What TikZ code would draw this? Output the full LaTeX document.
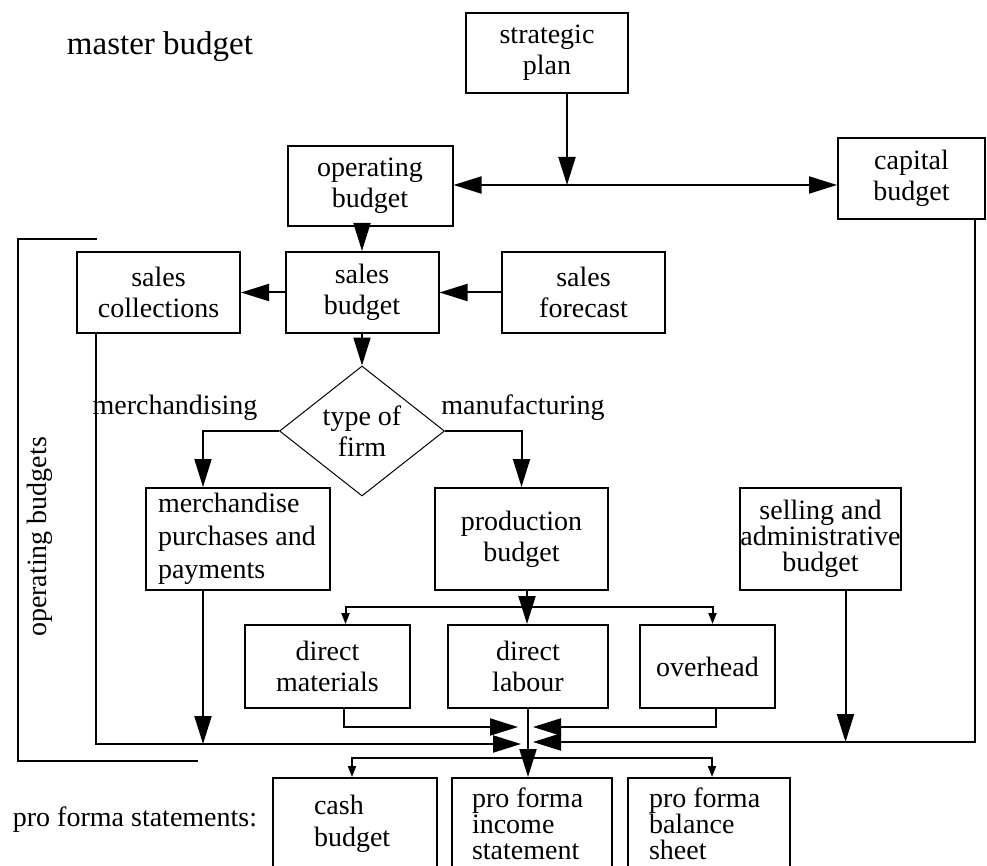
\documentclass[tikz,border=0pt]{standalone}
\usepackage{fontspec}
\setmainfont{Liberation Serif}
\usetikzlibrary{arrows.meta,shapes.geometric}

\tikzset{
  box/.style={draw, line width=2pt, inner sep=0pt, align=center},
  tightbox/.style={box, align=flush left, font=\fontsize{28}{26}\selectfont},
  bigtip/.style={-{Triangle[length=28pt,width=17pt]}},
  smalltip/.style={-{Triangle[length=11pt,width=8pt]}},
}

\begin{document}
\begin{tikzpicture}[x=1pt, y=-1pt, line width=2pt,
    every node/.style={font=\fontsize{28}{31}\selectfont}]
  \useasboundingbox (0,0) rectangle (987,866);
  \clip (0,0) rectangle (987,866);

  % Titles
  \node [font=\fontsize{33}{36}\selectfont] (title) at (160,47) {master budget};
  \node (proforma) at (135,820) {pro forma statements:};

  % Top level
  \node [box, minimum width=162pt, minimum height=80pt] (plan) at (547,53) {strategic\\plan};
  \node [box, minimum width=165pt, minimum height=80pt] (opbud) at (370,186) {operating\\budget};
  \node [box, minimum width=147pt, minimum height=81pt] (capbud) at (911.5,178.5) {capital\\budget};

  % Sales row
  \node [box, minimum width=163pt, minimum height=81pt] (coll) at (158.5,292.5) {sales\\collections};
  \node [box, minimum width=153pt, minimum height=81pt] (salesbud) at (362,292.5) {sales\\budget};
  \node [box, minimum width=163pt, minimum height=81pt] (forecast) at (583.5,292.5) {sales\\forecast};

  % Decision
  \node [draw, diamond, aspect=1.27, line width=1pt, inner sep=0pt, align=center,
         minimum width=165pt, minimum height=130pt] (firm) at (362,431) {type of\\firm};
  \node (merchlbl) at (175,408) {merchandising};
  \node (manulbl) at (523,408) {manufacturing};

  % Second level budgets
  \node [box, align=flush left, text width=160pt, font=\fontsize{28}{33}\selectfont,
         minimum width=184pt, minimum height=102pt] (merch) at (238,539) {merchandise\\purchases and\\payments};
  \node [box, minimum width=173pt, minimum height=102pt] (prod) at (521.5,539) {production\\budget};
  \node [box, font=\fontsize{28}{26}\selectfont, minimum width=159pt, minimum height=102pt] (sell) at (820.5,539) {selling and\\administrative\\budget};

  % Production components
  \node [box, minimum width=165pt, minimum height=83pt] (mat) at (327.5,666.5) {direct\\materials};
  \node [box, minimum width=160pt, minimum height=83pt] (labour) at (528,666.5) {direct\\labour};
  \node [box, minimum width=135pt, minimum height=83pt] (over) at (707.5,666.5) {overhead};

  % Pro forma statements
  \node [box, align=flush left, text width=82pt, font=\fontsize{28}{32}\selectfont,
         minimum width=164pt, minimum height=92pt] (cash) at (355,824) {cash\\budget};
  \node [tightbox, text width=120pt, minimum width=160pt, minimum height=92pt] (income) at (532,824) {pro forma\\income\\statement};
  \node [tightbox, text width=120pt, minimum width=162pt, minimum height=92pt] (balance) at (709,824) {pro forma\\balance\\sheet};

  % Bracket for the operating budgets
  \draw (97,239) -- (18,239) -- (18,761) -- (198,761);
  \node [rotate=90] (opslbl) at (40,537) {operating budgets};

  % Junction points
  \coordinate (planjoin) at (567,185);
  \coordinate (prodsplit) at (527,607);
  \coordinate (finalsplit) at (528,758);
  \coordinate (inAl) at (518,727);
  \coordinate (inAr) at (533,727);
  \coordinate (inBl) at (521,744);
  \coordinate (inBr) at (533,742);

  % Strategic plan feeds both budgets
  \draw [bigtip] (plan.south -| planjoin) -- (planjoin);
  \draw [bigtip] (planjoin) -- (opbud.east |- planjoin);
  \draw [bigtip] (planjoin) -- (capbud.west |- planjoin);

  % Sales
  \draw [bigtip] (opbud.south -| salesbud) -- (salesbud.north);
  \draw [bigtip] (salesbud.west) -- (coll.east);
  \draw [bigtip] (forecast.west) -- (salesbud.east);
  \draw [bigtip] (salesbud.south) -- (firm.north);

  % Type of firm
  \draw [bigtip] (firm.west) -| ([xshift=-35pt]merch.north);
  \draw [bigtip] (firm.east) -| (prod.north);

  % Production split
  \draw [bigtip] (prod.south -| prodsplit) -- (labour.north -| prodsplit);
  \draw [smalltip] (prodsplit) -| ([xshift=18pt]mat.north);
  \draw [smalltip] (prodsplit) -| ([xshift=5pt]over.north);

  % Everything flows into the pro forma statements
  \draw [bigtip] ([xshift=16pt]mat.south) |- (inAl);
  \draw [bigtip] ([xshift=8pt]over.south) |- (inAr);
  \draw [bigtip] ([xshift=-63pt]coll.south) |- (inBl);
  \draw [bigtip] ([xshift=-35pt]merch.south) -- ([xshift=-35pt]merch.south |- inBl);
  \draw [bigtip] ([xshift=63pt]capbud.south) |- (inBr);
  \draw [bigtip] ([xshift=25pt]sell.south) -- ([xshift=25pt]sell.south |- inBr);
  \draw [bigtip] (labour.south) -- (labour.south |- income.north);
  \draw [smalltip] (finalsplit) -| ([xshift=-3pt]cash.north);
  \draw [smalltip] (finalsplit) -| ([xshift=3pt]balance.north);

\end{tikzpicture}
\end{document}
